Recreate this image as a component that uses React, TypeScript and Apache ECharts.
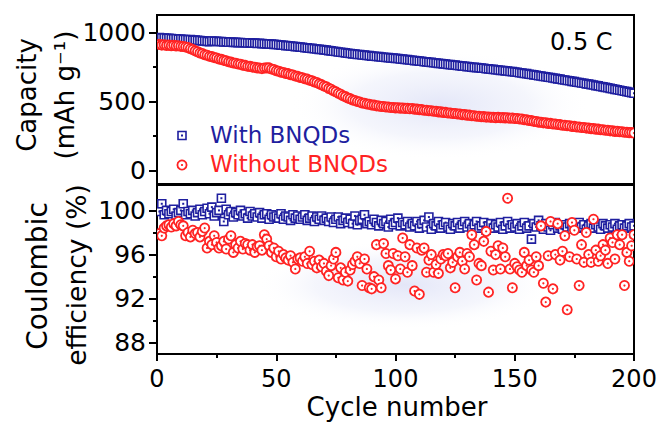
import React, { useEffect, useRef } from 'react';
import * as echarts from 'echarts';

const cycles: number[] = Array.from({ length: 200 }, (_, i) => i + 1);

const capWith = [
  966, 963, 963, 960, 961, 958, 957, 957, 954, 955,
  952, 952, 950, 951, 947, 947, 945, 944, 942, 941,
  938, 936, 941, 939, 939, 936, 937, 934, 935, 932,
  933, 931, 931, 929, 930, 928, 928, 926, 927, 925,
  925, 923, 924, 922, 921, 920, 919, 918, 916, 915,
  913, 911, 910, 907, 906, 904, 903, 900, 899, 896,
  895, 892, 891, 888, 887, 884, 883, 880, 879, 876,
  874, 871, 869, 866, 864, 861, 859, 857, 854, 852,
  850, 847, 846, 843, 842, 839, 838, 835, 834, 831,
  830, 828, 827, 824, 823, 821, 820, 817, 816, 814,
  813, 810, 809, 806, 805, 802, 801, 798, 797, 794,
  793, 790, 789, 786, 785, 782, 781, 778, 777, 774,
  773, 770, 769, 766, 765, 762, 761, 758, 757, 754,
  753, 750, 749, 747, 746, 743, 742, 739, 738, 735,
  734, 731, 730, 727, 726, 723, 722, 719, 718, 715,
  713, 710, 708, 704, 703, 699, 697, 694, 692, 688,
  686, 682, 681, 677, 675, 671, 669, 665, 663, 659,
  657, 653, 651, 647, 645, 641, 639, 635, 633, 629,
  627, 623, 621, 616, 614, 610, 607, 603, 600, 596,
  593, 589, 586, 582, 579, 575, 572, 568, 565, 561,
];

const capWithout = [
  916, 911, 913, 909, 911, 907, 909, 905, 906, 902,
  901, 897, 893, 885, 879, 869, 863, 854, 849, 841,
  837, 830, 827, 820, 817, 810, 807, 800, 797, 790,
  787, 781, 779, 773, 771, 765, 763, 757, 756, 751,
  750, 745, 744, 740, 744, 745, 745, 737, 733, 725,
  721, 714, 711, 705, 703, 696, 693, 686, 683, 676,
  673, 666, 663, 655, 651, 643, 639, 629, 623, 613,
  607, 596, 589, 578, 571, 560, 553, 542, 536, 526,
  521, 512, 508, 500, 497, 490, 488, 482, 480, 475,
  474, 469, 468, 464, 464, 460, 460, 457, 457, 454,
  455, 452, 453, 450, 451, 448, 449, 445, 445, 441,
  441, 437, 437, 433, 433, 429, 429, 425, 425, 421,
  421, 417, 417, 413, 413, 409, 409, 405, 405, 401,
  401, 397, 397, 393, 393, 389, 390, 387, 388, 385,
  386, 383, 385, 382, 383, 381, 382, 379, 380, 377,
  377, 373, 373, 368, 367, 362, 361, 356, 355, 350,
  349, 345, 345, 341, 341, 337, 337, 333, 332, 328,
  328, 324, 324, 319, 319, 315, 315, 311, 311, 307,
  307, 303, 303, 299, 299, 295, 295, 291, 291, 287,
  287, 283, 284, 280, 280, 277, 277, 274, 274, 271,
];

const ceWith = [
  99.9, 100.6, 99.6, 100.0, 99.7, 99.9, 100.1, 99.5, 99.8, 100.0,
  100.6, 99.6, 99.9, 99.7, 100.0, 99.5, 99.8, 100.1, 99.6, 99.9,
  100.2, 99.7, 100.3, 99.5, 99.8, 100.0, 101.1, 99.0, 100.1, 99.6,
  99.9, 99.4, 99.8, 99.6, 100.0, 99.5, 99.7, 99.3, 99.9, 99.5,
  99.7, 99.4, 99.8, 99.3, 99.6, 99.7, 99.2, 99.6, 99.4, 99.5,
  99.3, 99.7, 99.2, 99.5, 99.4, 99.1, 99.6, 99.3, 99.5, 99.2,
  99.4, 99.6, 99.1, 99.3, 99.5, 99.0, 99.4, 99.2, 99.5, 99.1,
  99.3, 99.0, 99.4, 98.9, 99.2, 99.4, 98.8, 99.1, 99.3, 98.9,
  99.2, 98.8, 99.5, 98.7, 99.1, 99.2, 99.6, 98.8, 99.0, 98.7,
  99.2, 98.9, 98.6, 99.1, 98.8, 99.0, 98.5, 99.2, 98.7, 98.9,
  99.3, 98.6, 98.9, 98.7, 99.0, 98.5, 98.8, 98.6, 99.0, 98.4,
  98.8, 99.1, 98.5, 99.4, 98.3, 98.8, 98.6, 99.0, 98.4, 98.7,
  98.9, 98.5, 98.3, 98.8, 98.6, 98.9, 98.4, 98.7, 99.0, 98.5,
  98.8, 98.3, 98.7, 99.0, 98.4, 98.6, 98.9, 98.2, 98.6, 98.8,
  98.4, 98.7, 98.5, 98.9, 98.3, 98.6, 99.0, 98.4, 98.7, 98.5,
  98.8, 98.3, 98.6, 98.9, 98.4, 98.6, 97.4, 98.8, 98.5, 99.1,
  98.6, 98.3, 98.8, 98.5, 98.2, 98.7, 98.9, 98.4, 98.6, 98.3,
  98.7, 98.5, 98.8, 98.3, 98.6, 98.4, 98.9, 98.5, 98.7, 98.3,
  98.6, 98.8, 98.4, 98.7, 98.5, 98.3, 98.8, 98.6, 98.4, 98.7,
  98.5, 98.8, 98.3, 98.6, 98.7, 98.4, 98.6, 98.8, 98.5, 98.6,
];

const ceWithout = [
  97.9, 97.7, 98.4, 98.6, 98.7, 98.5, 98.8, 98.6, 99.0, 98.7,
  98.6, 97.7, 98.0, 97.6, 98.2, 97.9, 98.0, 97.6, 98.1, 98.4,
  96.6, 97.2, 96.9, 97.7, 97.1, 96.6, 96.8, 97.2, 96.5, 97.4,
  97.7, 96.2, 96.9, 96.6, 97.2, 96.5, 97.0, 96.9, 96.4, 96.9,
  96.2, 96.7, 96.8, 96.4, 97.8, 97.4, 96.8, 96.2, 96.6, 95.8,
  96.3, 95.6, 96.0, 95.7, 95.5, 95.9, 95.3, 94.7, 95.6, 95.7,
  95.4, 95.8, 95.2, 96.3, 95.1, 95.4, 94.8, 95.5, 94.9, 95.2,
  94.5, 94.1, 95.0, 95.6, 96.2, 93.9, 94.8, 93.7, 94.4, 93.6,
  94.6, 95.1, 95.4, 95.8, 95.2, 93.2, 95.6, 94.7, 93.0, 92.9,
  94.0, 96.9, 93.7, 93.0, 97.0, 96.1, 95.0, 94.6, 96.1, 93.8,
  95.9, 94.7, 97.5, 95.8, 94.4, 96.9, 95.0, 92.7, 96.6, 92.4,
  96.4, 96.6, 94.4, 95.5, 96.0, 94.4, 95.1, 94.3, 95.6, 96.0,
  95.9, 96.1, 94.8, 95.3, 93.0, 95.8, 96.2, 95.4, 94.7, 96.1,
  95.8, 97.8, 96.9, 93.7, 95.2, 95.0, 97.2, 98.1, 92.6, 96.3,
  94.6, 96.0, 96.8, 94.7, 96.6, 95.8, 101.1, 94.7, 93.0, 95.2,
  94.9, 94.6, 94.4, 96.2, 95.0, 95.5, 94.6, 94.4, 95.8, 95.0,
  98.6, 93.4, 91.7, 95.9, 99.0, 92.9, 96.0, 98.8, 95.5, 96.3,
  97.7, 91.0, 95.8, 98.9, 98.2, 95.6, 93.2, 96.9, 95.3, 98.0,
  96.0, 95.3, 99.2, 96.4, 95.4, 95.9, 96.9, 96.4, 95.2, 97.5,
  97.1, 95.6, 97.8, 96.9, 97.8, 93.2, 96.2, 95.4, 96.8, 97.8,
];

const capTicks = [0, 500, 1000];
const capMinorTicks = [250, 750];
const ceTicks = [88, 92, 96, 100];
const ceMinorTicks = [90, 94, 98];

const seriesNames = ['With BNQDs', 'Without BNQDs'];
const rateLabel = '0.5 C';
const xTitle = 'Cycle number';

const BLUE = '#1f1f9f';
const RED = '#ff2323';
const FONT = 'DejaVu Sans';

const squareItem = (_p: any, api: any) => {
  const p = api.coord([api.value(0), api.value(1)]);
  return {
    type: 'group',
    children: [
      { type: 'rect', shape: { x: p[0] - 4, y: p[1] - 4, width: 8, height: 8 }, style: { fill: '#fff', stroke: BLUE, lineWidth: 1.6 } },
      { type: 'rect', shape: { x: p[0] - 1, y: p[1] - 1, width: 2, height: 2 }, style: { fill: BLUE } },
    ],
  };
};

const circleItem = (_p: any, api: any) => {
  const p = api.coord([api.value(0), api.value(1)]);
  return {
    type: 'group',
    children: [
      { type: 'circle', shape: { cx: p[0], cy: p[1], r: 4.6 }, style: { fill: '#fff', stroke: RED, lineWidth: 1.8 } },
      { type: 'circle', shape: { cx: p[0], cy: p[1], r: 1.1 }, style: { fill: RED } },
    ],
  };
};

const tickStyle = { color: '#000', width: 2 };
const labelStyle = { fontSize: 25, color: '#000', fontFamily: FONT };

function yAxes(grid: number, min: number, max: number, major: number[], minor: number[]) {
  return [
    {
      gridIndex: grid, type: 'value', position: 'left', min, max,
      axisLine: { show: true, lineStyle: tickStyle },
      axisTick: { show: true, customValues: major, length: 8, lineStyle: tickStyle },
      axisLabel: { show: true, customValues: major, margin: 11, formatter: (v: number) => String(v), ...labelStyle },
      splitLine: { show: false },
    },
    {
      gridIndex: grid, type: 'value', position: 'left', min, max,
      axisLine: { show: false },
      axisTick: { show: true, customValues: minor, length: 4, lineStyle: tickStyle },
      axisLabel: { show: false },
      splitLine: { show: false },
    },
  ];
}

function text(t: string, x: number, y: number, opts: any = {}) {
  const { rotation, ...style } = opts;
  return {
    type: 'text', x, y, rotation: rotation || 0, z: 10,
    style: {
      text: t, fontFamily: FONT, fontSize: 26, fill: '#000',
      align: 'center', verticalAlign: 'middle', textAlign: 'center', textVerticalAlign: 'middle',
      ...style,
    },
  };
}

function glow(cx: number, cy: number, sx: number, sy: number) {
  return {
    type: 'circle', x: cx, y: cy, scaleX: sx, scaleY: sy, z: -10, silent: true,
    shape: { cx: 0, cy: 0, r: 50 },
    style: {
      fill: {
        type: 'radial', x: 0.5, y: 0.5, r: 0.5,
        colorStops: [
          { offset: 0, color: 'rgba(205,210,242,0.55)' },
          { offset: 0.6, color: 'rgba(220,224,246,0.3)' },
          { offset: 1, color: 'rgba(255,255,255,0)' },
        ],
      },
    },
  };
}

export default function App() {
  const ref = useRef<HTMLDivElement>(null);
  useEffect(() => {
    if (!ref.current) return;
    const chart = echarts.init(ref.current, undefined, { renderer: 'svg' });
    const option: any = {
      animation: false,
      backgroundColor: '#fff',
      grid: [
        { left: 157, top: 15, width: 477, height: 169, show: true, borderColor: '#000', borderWidth: 2, backgroundColor: 'transparent' },
        { left: 157, top: 185, width: 477, height: 169, show: true, borderColor: '#000', borderWidth: 2, backgroundColor: 'transparent' },
      ],
      xAxis: [
        {
          gridIndex: 0, type: 'value', min: 0, max: 200, interval: 50,
          axisLine: { show: false }, axisTick: { show: false }, axisLabel: { show: false }, splitLine: { show: false },
        },
        {
          gridIndex: 1, type: 'value', min: 0, max: 200, interval: 50,
          axisLine: { show: true, lineStyle: tickStyle },
          axisTick: { show: true, length: 7, lineStyle: tickStyle },
          minorTick: { show: true, splitNumber: 2, length: 4, lineStyle: tickStyle },
          axisLabel: { margin: 13, ...labelStyle, fontSize: 24 },
          splitLine: { show: false },
        },
      ],
      yAxis: [
        ...yAxes(0, -100, 1130, capTicks, capMinorTicks),
        ...yAxes(1, 87, 102.3, ceTicks, ceMinorTicks),
      ],
      graphic: [
        glow(440, 105, 3.0, 1.1),
        glow(405, 285, 3.0, 0.9),
        text('Capacity', 27, 95, { rotation: Math.PI / 2 }),
        text('(mAh g\u207B\u00B9)', 65, 95, { rotation: Math.PI / 2 }),
        text('Coulombic', 37, 276, { rotation: Math.PI / 2, fontSize: 28 }),
        text('efficiency (%)', 76, 275, { rotation: Math.PI / 2, fontSize: 26.5 }),
        text(xTitle, 397, 407, { fontSize: 26 }),
        text(rateLabel, 550, 42, { fontSize: 24, align: 'left', textAlign: 'left' }),
        { type: 'rect', z: 10, shape: { x: 178, y: 131.5, width: 8, height: 8 }, style: { fill: '#fff', stroke: BLUE, lineWidth: 1.6 } },
        { type: 'rect', z: 10, shape: { x: 181, y: 134.5, width: 2, height: 2 }, style: { fill: BLUE } },
        { type: 'circle', z: 10, shape: { cx: 182, cy: 165, r: 4.6 }, style: { fill: '#fff', stroke: RED, lineWidth: 1.8 } },
        { type: 'circle', z: 10, shape: { cx: 182, cy: 165, r: 1.1 }, style: { fill: RED } },
        text(seriesNames[0], 210, 134.5, { fontSize: 23, fill: BLUE, align: 'left', textAlign: 'left' }),
        text(seriesNames[1], 210, 163.5, { fontSize: 23, fill: RED, align: 'left', textAlign: 'left' }),
      ],
      series: [
        { type: 'custom', name: seriesNames[0], xAxisIndex: 0, yAxisIndex: 0, clip: true, encode: { x: 0, y: 1 }, data: cycles.map((c, i) => [c, capWith[i]]), renderItem: squareItem },
        { type: 'custom', name: seriesNames[1], xAxisIndex: 0, yAxisIndex: 0, clip: true, encode: { x: 0, y: 1 }, data: cycles.map((c, i) => [c, capWithout[i]]), renderItem: circleItem },
        { type: 'custom', name: seriesNames[0], xAxisIndex: 1, yAxisIndex: 2, clip: true, encode: { x: 0, y: 1 }, data: cycles.map((c, i) => [c, ceWith[i]]), renderItem: squareItem },
        { type: 'custom', name: seriesNames[1], xAxisIndex: 1, yAxisIndex: 2, clip: true, encode: { x: 0, y: 1 }, data: cycles.map((c, i) => [c, ceWithout[i]]), renderItem: circleItem },
      ],
    };
    chart.setOption(option);
    return () => chart.dispose();
  }, []);
  return <div ref={ref} style={{ position: 'fixed', left: 0, top: 0, width: 665, height: 429 }} />;
}
